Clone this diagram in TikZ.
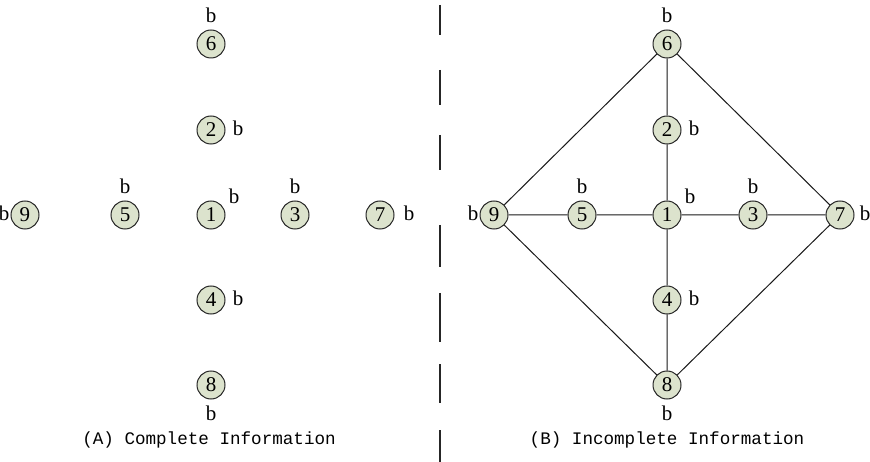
\documentclass[tikz,border=0pt]{standalone}
\usepackage{fontspec}
\setmainfont{Liberation Serif}
\newfontfamily\capfont{Liberation Mono}
\definecolor{nodefill}{RGB}{220,227,205}
\tikzset{
  vtx/.style={circle,draw=black!85,line width=1pt,fill=nodefill,minimum size=28pt,inner sep=0pt,font=\fontsize{21}{21}\selectfont},
  lbl/.style={font=\fontsize{21}{21}\selectfont,inner sep=0pt},
  edge/.style={draw=black!90,line width=1pt},
  captxt/.style={font=\capfont\fontsize{17.6}{17.6}\selectfont,inner sep=0pt}
}
\begin{document}
\begin{tikzpicture}[x=1pt,y=-1pt]
\useasboundingbox (0,0) rectangle (870,462);
% divider
\draw[black!85,line width=1.2pt] (440,5) -- (440,35) (440,70) -- (440,105) (440,135) -- (440,170)
  (440,225) -- (440,267) (440,293) -- (440,342) (440,364) -- (440,403) (440,430) -- (440,462);
% Panel A
\foreach \n/\x/\y in {6/211/44,2/211/130,1/211/215,4/211/300,8/211/385,9/25/215,5/125/215,3/295/215,7/380/215}{
  \node[vtx] (a\n) at (\x,\y) {\n};
}
\node[lbl] (ba6) at (211,15) {b};
\node[lbl] (ba2) at (238,128) {b};
\node[lbl] (ba1) at (234,196) {b};
\node[lbl] (ba4) at (238,298) {b};
\node[lbl] (ba8) at (211,413) {b};
\node[lbl] (ba9) at (4,213) {b};
\node[lbl] (ba5) at (125,186) {b};
\node[lbl] (ba3) at (295,186) {b};
\node[lbl] (ba7) at (409,213) {b};
\node[captxt] (capA) at (209,440) {(A) Complete Information};
% Panel B
\foreach \n/\x/\y in {6/667/44,2/667/130,1/667/215,4/667/300,8/667/385,9/494/215,5/582/215,3/753/215,7/840/215}{
  \node[vtx] (b\n) at (\x,\y) {\n};
}
\draw[edge] (b6) -- (b2) (b2) -- (b1) (b1) -- (b4) (b4) -- (b8)
  (b9) -- (b5) (b5) -- (b1) (b1) -- (b3) (b3) -- (b7)
  (b9) -- (b6) (b6) -- (b7) (b7) -- (b8) (b8) -- (b9);
\node[lbl] (bb6) at (667,15) {b};
\node[lbl] (bb2) at (694,128) {b};
\node[lbl] (bb1) at (690,196) {b};
\node[lbl] (bb4) at (694,298) {b};
\node[lbl] (bb8) at (667,413) {b};
\node[lbl] (bb9) at (473,213) {b};
\node[lbl] (bb5) at (582,186) {b};
\node[lbl] (bb3) at (753,186) {b};
\node[lbl] (bb7) at (865,213) {b};
\node[captxt] (capB) at (667,440) {(B) Incomplete Information};
\end{tikzpicture}
\end{document}
